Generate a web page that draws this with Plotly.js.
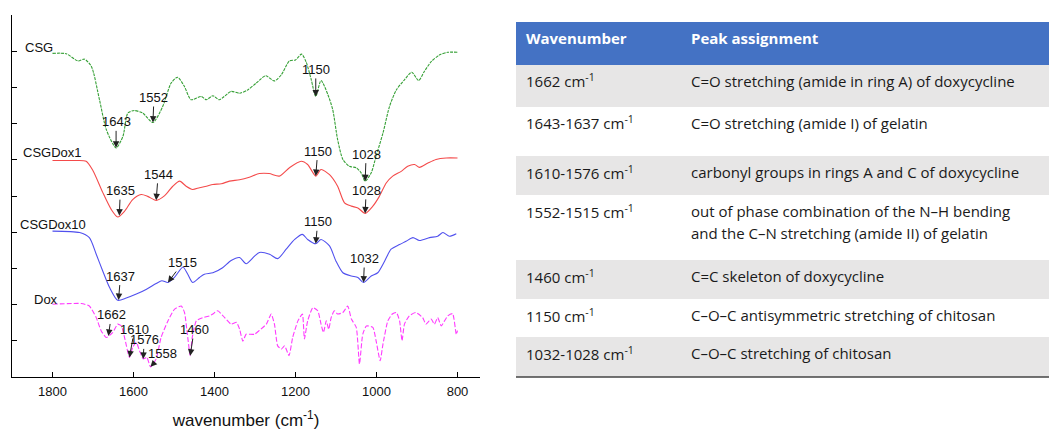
<!DOCTYPE html>
<html>
<head>
<meta charset="utf-8">
<script src="https://cdn.plot.ly/plotly-3.0.1.min.js"></script>
<style>
html,body{margin:0;padding:0;background:#fff;}
#chart{width:1049px;height:430px;}
</style>
</head>
<body>
<div id="chart"></div>
<script>
// ---------------- data ----------------
const csgWn = [1800,1766,1737,1721,1704,1684,1667,1643,1626,1614,1598,1577,1552,1528,1507,1491,1474,1458,1433,1420,1404,1388,1359,1338,1318,1297,1274,1252,1235,1215,1200,1185,1174,1161,1150,1137,1120,1108,1096,1083,1067,1050,1038,1028,1013,1001,984,968,951,931,913,896,882,865,844,824,800];
const csgT  = [8.94,8.93,8.73,8.78,8.58,7.66,6.83,6.33,6.65,7.29,7.36,7.29,7.03,7.47,8.12,8.28,8.02,7.66,7.75,7.66,7.77,7.66,7.89,7.84,7.93,8.12,8.32,8.18,8.35,8.73,8.76,8.92,8.71,8.21,7.75,8.19,7.80,7.38,6.56,6.01,5.82,5.78,5.64,5.41,5.64,6.10,6.74,7.47,7.93,8.21,8.42,8.19,8.44,8.71,8.90,8.97,8.97];

const dox1Wn = [1800,1746,1717,1700,1676,1655,1639,1622,1602,1581,1565,1544,1523,1503,1486,1470,1454,1437,1420,1404,1383,1363,1338,1314,1289,1265,1240,1215,1186,1170,1150,1137,1116,1096,1079,1062,1046,1028,1009,993,976,960,939,923,906,894,873,853,828,800];
const dox1T  = [5.98,5.98,5.96,5.70,5.10,4.63,4.42,4.58,4.90,5.04,4.99,4.88,5.01,5.27,5.41,5.27,5.18,5.23,5.27,5.32,5.34,5.41,5.45,5.52,5.62,5.62,5.55,5.78,5.96,5.87,5.55,5.73,5.59,5.27,4.81,4.72,4.67,4.52,4.72,4.99,5.36,5.55,5.68,5.82,5.87,5.79,5.91,6.01,6.05,6.05];

const dox10Wn = [1800,1733,1709,1692,1676,1659,1639,1618,1593,1569,1544,1530,1515,1499,1478,1466,1454,1437,1425,1404,1380,1359,1338,1322,1301,1289,1264,1244,1223,1202,1183,1170,1150,1137,1116,1100,1083,1062,1046,1032,1013,997,980,964,943,927,910,894,869,849,836,820,803];
const dox10T  = [4.03,3.99,3.85,3.39,2.93,2.47,2.12,2.18,2.29,2.42,2.58,2.66,2.61,2.75,3.04,2.84,2.61,2.75,2.84,2.88,3.02,3.22,3.30,3.13,3.34,3.44,3.39,3.27,3.53,3.80,3.94,3.80,3.68,3.80,3.62,3.20,2.88,2.79,2.75,2.61,2.79,2.88,3.20,3.53,3.66,3.75,3.85,3.77,3.85,3.89,3.99,3.89,3.96];

const doxWn = [1800,1729,1709,1692,1680,1667,1651,1639,1630,1622,1610,1602,1593,1585,1576,1567,1558,1544,1532,1515,1499,1482,1474,1467,1460,1455,1445,1429,1412,1404,1392,1375,1359,1346,1338,1330,1322,1314,1301,1289,1272,1260,1252,1244,1235,1227,1216,1207,1194,1183,1178,1170,1157,1145,1137,1131,1124,1118,1112,1104,1096,1083,1071,1062,1050,1042,1034,1025,1009,1001,991,984,972,961,951,943,937,931,919,903,886,878,865,857,849,840,832,824,812,803,800];
const doxT  = [2.01,2.03,1.96,1.64,1.28,1.09,1.23,1.46,1.41,1.09,0.54,0.82,0.96,0.72,0.50,0.54,0.28,0.50,1.09,1.55,1.87,1.96,1.78,1.18,0.59,1.09,1.55,1.64,1.69,1.74,1.83,1.64,1.46,1.51,1.32,0.99,1.18,1.18,1.18,1.29,1.46,1.74,1.46,0.86,0.77,0.86,0.59,1.09,1.55,1.74,1.05,1.55,1.92,1.83,1.46,1.23,1.55,1.32,1.64,1.83,1.74,1.78,1.96,1.60,1.37,0.36,1.18,1.41,1.37,1.00,0.45,0.91,1.55,1.74,1.78,1.55,1.00,1.46,1.69,1.78,1.64,1.46,1.60,1.46,1.64,1.41,1.55,1.69,1.75,1.18,1.28];

const seriesNames = ['CSG','CSGDox1','CSGDox10','Dox'];

const csgPeaks   = [1643, 1552, 1150, 1028];
const dox1Peaks  = [1635, 1544, 1150, 1028];
const dox10Peaks = [1637, 1515, 1150, 1032];
const doxPeaks   = [1662, 1610, 1576, 1558, 1460];

const xTickVals = [1800, 1600, 1400, 1200, 1000, 800];
const xTitle = 'wavenumber (cm<sup>-1</sup>)';

const tableHeader = ['Wavenumber', 'Peak assignment'];
const tableWavenumbers = ['1662 cm<sup>-1</sup>', '1643-1637 cm<sup>-1</sup>', '1610-1576 cm<sup>-1</sup>', '1552-1515 cm<sup>-1</sup>', '1460 cm<sup>-1</sup>', '1150 cm<sup>-1</sup>', '1032-1028 cm<sup>-1</sup>'];
const tableAssignments = [
  'C=O stretching (amide in ring A) of doxycycline',
  'C=O stretching (amide I) of gelatin',
  'carbonyl groups in rings A and C of doxycycline',
  'out of phase combination of the N–H bending<br>and the C–N stretching (amide II) of gelatin',
  'C=C skeleton of doxycycline',
  'C–O–C antisymmetric stretching of chitosan',
  'C–O–C stretching of chitosan'
];

// ---------------- styles ----------------
const W = 1049, H = 430;
const px = v => v / W, py = v => 1 - v / H;
const FONT = 'Liberation Sans, Arial, sans-serif';
const TFONT = 'Open Sans, sans-serif';

const styles = [
  {color: '#36a036', dash: '3px,1px', smoothing: 0.7, label: [23, 48]},
  {color: '#f44a4a', dash: 'solid',   smoothing: 0.7, label: [21, 153]},
  {color: '#5050ee', dash: 'solid',   smoothing: 0.7, label: [18, 225]},
  {color: '#ff3cff', dash: '5px,2px', smoothing: 0.5, label: [32, 299]}
];
// arrow offsets (pixels) for each peak label
const peakOffsets = [
  [[0,-26],[1,-25],[0,-27],[1,-27]],
  [[1,-25],[2,-26],[2,-25],[1,-23]],
  [[2,-24],[15,-20],[2,-22],[1,-24]],
  [[3,-21],[5,-28],[1,-19],[12,-13],[4,-26]]
];
// table geometry (pixels)
const tableLeft = 516, tableRight = 1049, col1X = 524, col2X = 689;
const rowEdges = [22, 65, 107, 156, 195, 260, 299, 337, 377];
const textOffset = 16, lineGap = 22;
const headerFill = '#4472C4', grayFill = '#E7E6E6', whiteFill = '#FFFFFF';

const wnArr = [csgWn, dox1Wn, dox10Wn, doxWn];
const tArr  = [csgT, dox1T, dox10T, doxT];
const peakArr = [csgPeaks, dox1Peaks, dox10Peaks, doxPeaks];

function interp(wn, t, w) {
  for (let i = 0; i < wn.length - 1; i++) {
    const a = wn[i], b = wn[i+1];
    if ((w <= a && w >= b) || (w >= a && w <= b)) {
      const f = (w - a) / (b - a);
      return t[i] + f * (t[i+1] - t[i]);
    }
  }
  return t[t.length-1];
}

// x axis: 1800 at px 52.5, 800 at px 457.5
const xLeftPx = 12, xRightPx = 480;
const pxPerUnit = 405 / 1000;
const xRange = [1800 + (52.5 - xLeftPx) / pxPerUnit, 800 - (xRightPx - 457.5) / pxPerUnit];

const traces = [];
const annotations = [];
const shapes = [];
seriesNames.forEach((name, i) => {
  traces.push({
    type: 'scatter', mode: 'lines', name: name,
    x: wnArr[i], y: tArr[i],
    line: {color: styles[i].color, width: 1.1, dash: styles[i].dash, shape: 'spline', smoothing: styles[i].smoothing},
    hoverinfo: 'skip', showlegend: false, xaxis: 'x', yaxis: 'y'
  });
  const lx = 1800 + (52.5 - styles[i].label[0]) / pxPerUnit;
  const ly = (377 - styles[i].label[1]) / 36.2;
  annotations.push({
    x: lx, y: ly, xref: 'x', yref: 'y', text: name, showarrow: false,
    xanchor: 'left', yanchor: 'middle', font: {family: FONT, size: 13, color: '#111'}
  });
  peakArr[i].forEach((p, j) => {
    annotations.push({
      x: p, y: interp(wnArr[i], tArr[i], p), xref: 'x', yref: 'y',
      text: String(p), showarrow: true, arrowhead: 2, arrowsize: 1.3, arrowwidth: 1,
      arrowcolor: '#222', ax: peakOffsets[i][j][0], ay: peakOffsets[i][j][1], standoff: 0,
      font: {family: FONT, size: 13, color: '#111'}
    });
  });
});

// ---------------- table (shapes + text) ----------------
const tableRows = [tableHeader.map(h => '<b>' + h + '</b>')]
  .concat(tableWavenumbers.map((w, k) => [w, tableAssignments[k]]));
tableRows.forEach((row, r) => {
  const top = rowEdges[r], bottom = rowEdges[r + 1];
  const fill = r === 0 ? headerFill : (r % 2 === 1 ? grayFill : whiteFill);
  shapes.push({type: 'rect', xref: 'paper', yref: 'paper', layer: 'below',
    x0: px(tableLeft), x1: px(tableRight), y0: py(bottom), y1: py(top),
    fillcolor: fill, line: {width: 0}});
  const color = r === 0 ? '#ffffff' : '#1a1a1a';
  [col1X, col2X].forEach((cx, c) => {
    String(row[c]).split('<br>').forEach((line, li) => {
      annotations.push({
        xref: 'paper', yref: 'paper', x: px(cx), y: py(top + textOffset + li * lineGap),
        xanchor: 'left', yanchor: 'middle', showarrow: false, text: line,
        font: {family: TFONT, size: 15, color: color}
      });
    });
  });
});
shapes.push({type: 'line', xref: 'paper', yref: 'paper', x0: px(tableLeft), x1: px(tableRight),
  y0: py(rowEdges[rowEdges.length - 1]), y1: py(rowEdges[rowEdges.length - 1]),
  line: {color: '#444', width: 1.5}});

const layout = {
  width: W, height: H,
  margin: {l: 0, r: 0, t: 0, b: 0},
  paper_bgcolor: '#fff', plot_bgcolor: 'rgba(0,0,0,0)',
  showlegend: false,
  xaxis: {
    domain: [px(xLeftPx), px(xRightPx)], range: xRange,
    showline: true, linecolor: '#000', linewidth: 1, mirror: false,
    ticks: 'inside', ticklen: 5, tickcolor: '#000', tickwidth: 1,
    tickvals: xTickVals, ticktext: xTickVals.map(String), ticklabelstandoff: 2,
    tickfont: {family: FONT, size: 13, color: '#111'},
    showgrid: false, zeroline: false, anchor: 'y',
    title: {text: xTitle, font: {family: FONT, size: 17, color: '#111'}, standoff: 27}
  },
  yaxis: {
    domain: [py(377), py(15)], range: [0, 10],
    showline: true, linecolor: '#000', linewidth: 1,
    ticks: 'inside', ticklen: 5, tickcolor: '#000', dtick: 1, tick0: 0,
    showticklabels: false, showgrid: false, zeroline: false, anchor: 'x'
  },
  annotations: annotations,
  shapes: shapes
};

Plotly.newPlot('chart', traces, layout, {displayModeBar: false, staticPlot: true});
</script>
</body>
</html>
